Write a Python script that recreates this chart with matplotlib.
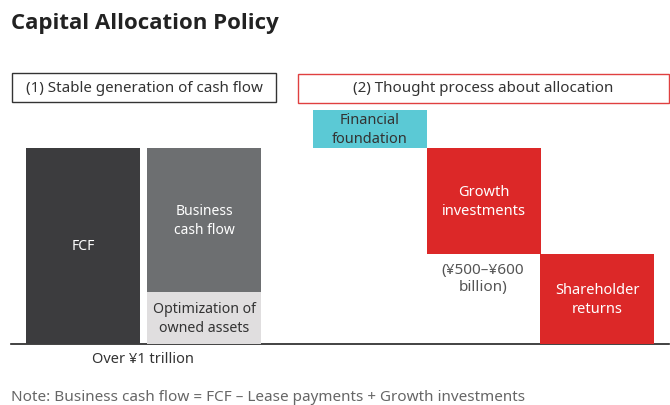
import matplotlib
matplotlib.use("Agg")
import matplotlib.pyplot as plt
import matplotlib.patches as patches

plt.rcParams['font.family'] = ['Noto Sans', 'DejaVu Sans']

# values in ¥ billion (FCF ~ 1 trillion)
left_labels = ["FCF", "Business\ncash flow", "Optimization of\nowned assets"]
fcf = 1000
business_cf = 735
optimization = 265

right_labels = ["Financial\nfoundation", "Growth\ninvestments", "Shareholder\nreturns"]
right_bottoms = [1000, 459, 0]
right_heights = [194, 541, 459]

title = "Capital Allocation Policy"
box1_text = "(1) Stable generation of cash flow"
box2_text = "(2) Thought process about allocation"
under_left = "Over ¥1 trillion"
growth_note = "(¥500–¥600\nbillion)"
note = "Note: Business cash flow = FCF – Lease payments + Growth investments"

W, H = 670, 406
fig = plt.figure(figsize=(W / 100, H / 100), dpi=100)

# overlay axes in pixel coords for text and frames
ax = fig.add_axes([0, 0, 1, 1])
ax.set_xlim(0, W)
ax.set_ylim(H, 0)
ax.axis('off')

# bar axes: baseline at y=345 px, top of axes at y=100 px
base_px, top_px = 345, 100
bx = fig.add_axes([0, (H - base_px) / H, 1, (base_px - top_px) / H])
bx.set_xlim(0, W)
bx.set_ylim(0, fcf * (base_px - top_px) / 196)
bx.axis('off')
bx.patch.set_alpha(0)

bw = 114
dark = "#3c3c3e"
mid = "#6d6f71"
light = "#e0dedf"
red = "#dc2828"
cyan = "#5bc9d5"
txt = "#333333"
ls = 1.3

bx.bar(83, fcf, width=bw, color=dark)
bx.bar(204, optimization, width=bw, color=light)
bx.bar(204, business_cf, bottom=optimization, width=bw, color=mid)
rx = [370, 484, 597]
rc = [cyan, red, red]
bx.bar(rx, right_heights, bottom=right_bottoms, width=bw, color=rc)

bx.text(83, fcf / 2, left_labels[0], color="white", ha="center", va="center", fontsize=10)
bx.text(204, optimization + business_cf / 2, left_labels[1], color="white",
        ha="center", va="center", fontsize=10, linespacing=ls)
bx.text(204, optimization / 2, left_labels[2], color=txt,
        ha="center", va="center", fontsize=10.2, linespacing=ls)
for x, b, h, lab, c in zip(rx, right_bottoms, right_heights, right_labels, rc):
    col = txt if c == cyan else "white"
    bx.text(x, b + h / 2, lab, color=col, ha="center", va="center", fontsize=10.5, linespacing=ls)

# baseline
ax.plot([11, 669], [345, 345], color="#222222", lw=1.2)

ax.text(11, 24, title, fontsize=16, fontfamily=["Open Sans", "DejaVu Sans"], fontweight="bold",
        color="#222222", va="center", ha="left")

ax.add_patch(patches.Rectangle((12, 74), 264, 29, fill=False, ec="#333333", lw=1))
ax.text(144, 88.5, box1_text, fontsize=10.9, color=txt, ha="center", va="center")
ax.add_patch(patches.Rectangle((298, 75), 371, 29, fill=False, ec="#e04040", lw=1))
ax.text(483, 89, box2_text, fontsize=10.9, color=txt, ha="center", va="center")

ax.text(143, 360, under_left, fontsize=10.5, color=txt, ha="center", va="center")
ax.text(483, 279, growth_note, fontsize=11, color="#555555", ha="center", va="center", linespacing=1.2)
ax.text(11, 398, note, fontsize=11, color="#666666", ha="left", va="center")

fig.savefig("out.png", dpi=100, facecolor="white")
